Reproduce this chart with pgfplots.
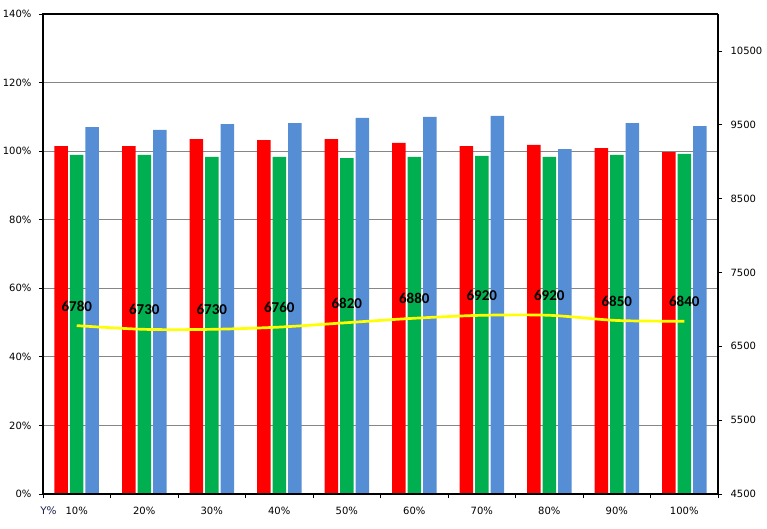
\documentclass[border=0pt]{standalone}
\usepackage{pgfplots}
\pgfplotsset{compat=1.18}
\usepackage{fontspec}
\setmainfont{DejaVu Sans}
\newfontfamily\lblfont{Carlito}
\definecolor{barred}{HTML}{FF0000}
\definecolor{bargreen}{HTML}{00B050}
\definecolor{barblue}{HTML}{558ED5}
\definecolor{lineyellow}{HTML}{FFFF00}
\definecolor{gridgray}{HTML}{868686}
\definecolor{ynavy}{HTML}{1F2050}
\begin{document}
\begin{tikzpicture}
\path[use as bounding box] (-43pt,-34pt) rectangle (724pt,494pt);
\begin{axis}[
  scale only axis, width=675pt, height=480pt,
  xmin=0.5, xmax=10.5, ymin=0, ymax=140,
  clip=false,
  axis line style={draw=none},
  tick label style={font=\fontsize{10}{12}\selectfont},
  xtick={1,2,3,4,5,6,7,8,9,10},
  xticklabels={10\%,20\%,30\%,40\%,50\%,60\%,70\%,80\%,90\%,100\%},
  major x tick style={draw=none},
  minor xtick={0.5,1.5,2.5,3.5,4.5,5.5,6.5,7.5,8.5,9.5,10.5},
  minor x tick style={black, line width=0.8pt},
  minor tick length=4pt,
  xtick pos=bottom,
  ytick={0,20,40,60,80,100,120,140},
  yticklabels={0\%,20\%,40\%,60\%,80\%,100\%,120\%,140\%},
  ytick pos=left,
  major y tick style={black, line width=0.8pt},
  major tick length=4pt,
  tick align=outside,
  ymajorgrids,
  grid style={gridgray, line width=0.8pt},
  yticklabel style={xshift=-4pt},
  xticklabel style={yshift=-6pt},
]
\addplot[ybar, bar width=13.5pt, bar shift=-15.5pt, fill=barred, draw=none]
  coordinates {(1,101.5) (2,101.5) (3,103.5) (4,103.2) (5,103.5) (6,102.4) (7,101.5) (8,101.8) (9,100.9) (10,99.7)};
\addplot[ybar, bar width=13.5pt, bar shift=0pt, fill=bargreen, draw=none]
  coordinates {(1,98.9) (2,98.9) (3,98.3) (4,98.3) (5,98.0) (6,98.3) (7,98.6) (8,98.3) (9,98.9) (10,99.2)};
\addplot[ybar, bar width=13.5pt, bar shift=15.5pt, fill=barblue, draw=none]
  coordinates {(1,107.0) (2,106.2) (3,107.9) (4,108.2) (5,109.7) (6,110.0) (7,110.3) (8,100.6) (9,108.2) (10,107.3)};
\draw[black, line width=1.2pt] (rel axis cs:0,0) -- (rel axis cs:1,0);
\draw[black, line width=1.2pt] (rel axis cs:1,0) -- (rel axis cs:1,1);
\draw[black, line width=2pt] (rel axis cs:0,0) -- (rel axis cs:0,1) -- (rel axis cs:1,1);
\node[text=ynavy, font=\fontsize{10.5}{12}\selectfont] at (rel axis cs:0,0) [xshift=5.5pt, yshift=-17pt] {Y\%};
\end{axis}
\begin{axis}[
  scale only axis, width=675pt, height=480pt,
  xmin=0.5, xmax=10.5, ymin=4500, ymax=11000,
  axis line style={draw=none},
  tick label style={font=\fontsize{10}{12}\selectfont},
  xtick=\empty,
  ytick={4500,5500,6500,7500,8500,9500,10500},
  yticklabels={4500,5500,6500,7500,8500,9500,10500},
  ytick pos=right,
  yticklabel pos=right,
  major y tick style={black, line width=0.8pt},
  major tick length=4pt,
  tick align=outside,
  yticklabel style={xshift=5pt},
  clip=false,
]
\addplot[lineyellow, line width=2.7pt, smooth, tension=0.5, mark=none,
  point meta=explicit symbolic,
  nodes near coords,
  every node near coord/.append style={anchor=south, yshift=13pt, inner sep=0pt, text=black, font=\lblfont\bfseries\fontsize{15}{18}\selectfont}]
  coordinates {(1,6780)[6780] (2,6730)[6730] (3,6730)[6730] (4,6760)[6760] (5,6820)[6820] (6,6880)[6880] (7,6920)[6920] (8,6920)[6920] (9,6850)[6850] (10,6840)[6840]};
\end{axis}
\end{tikzpicture}
\end{document}
